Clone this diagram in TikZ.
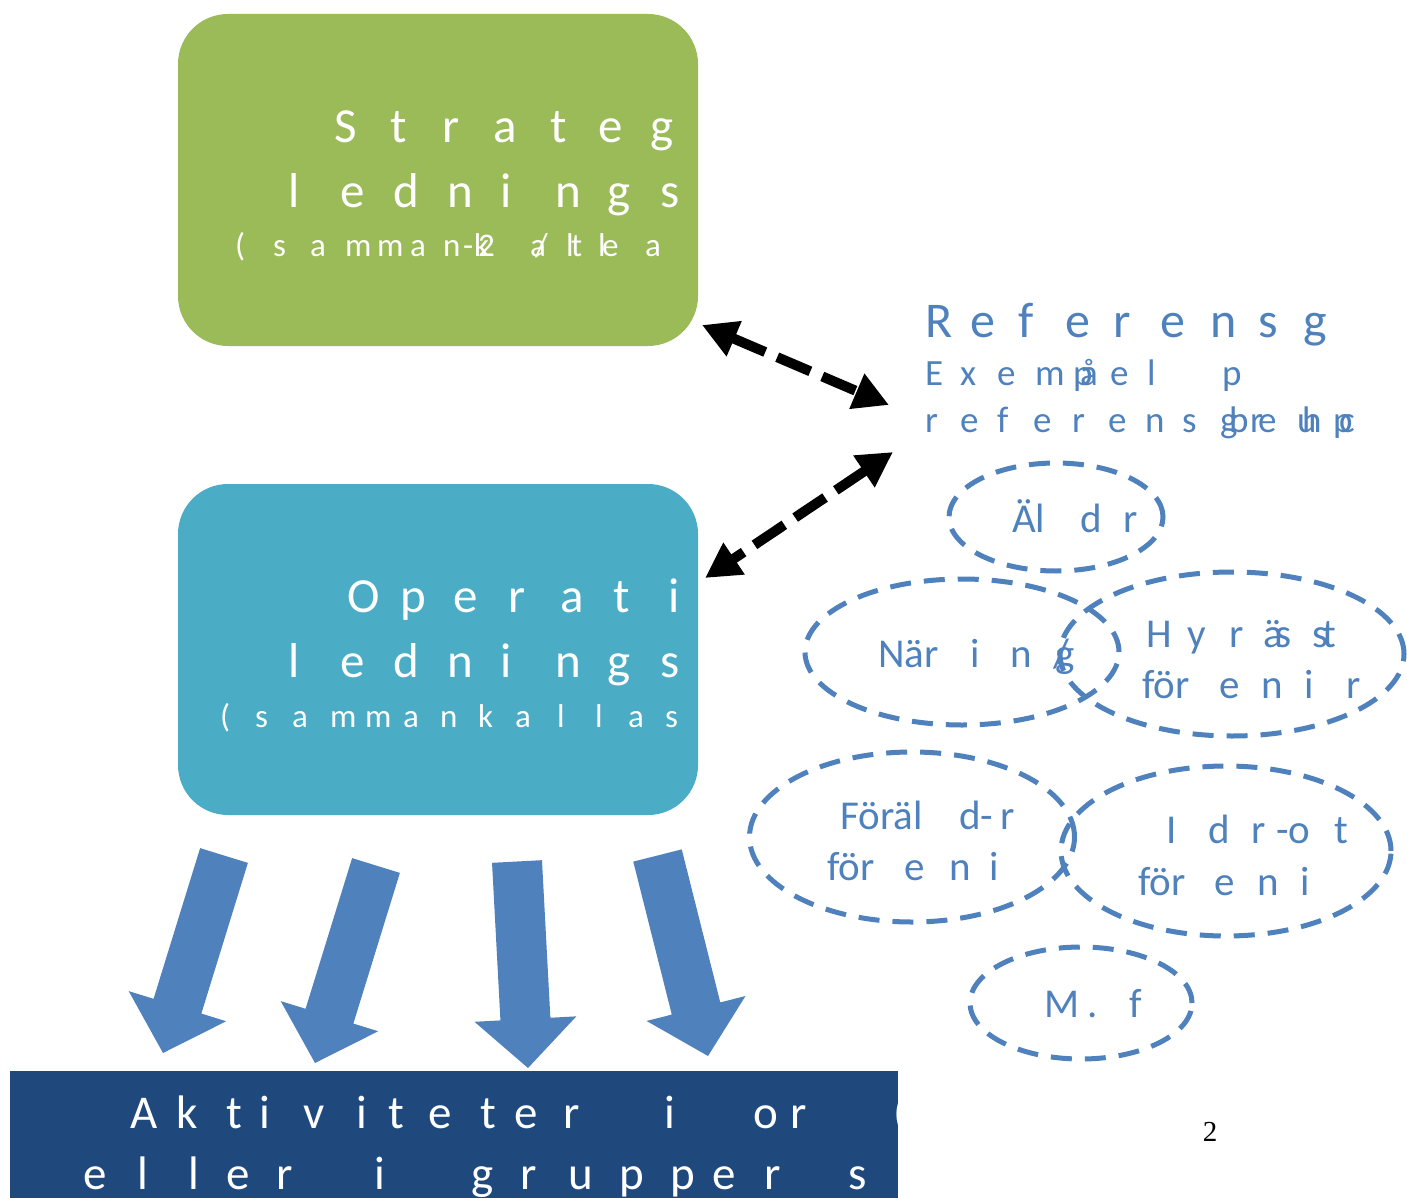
\documentclass[tikz,border=0pt]{standalone}
\usepackage{fontspec}
\setmainfont{Carlito}
\newfontfamily\pgserif{Liberation Serif}
\usetikzlibrary{arrows.meta,calc,shapes.geometric}
\definecolor{sgreen}{HTML}{9BBB59}
\definecolor{oteal}{HTML}{4BACC6}
\definecolor{rblue}{HTML}{4F81BD}
\definecolor{dblue}{HTML}{1F497D}
\newcommand\lpar{(}
% letters placed one by one: prefix, baseline y, style, list char/x
\newcommand\lett[4]{\foreach \c/\x [count=\i] in {#4} \node[#3,anchor=base west,inner sep=0pt] (#1\i) at (\x,#2) {\c};}
% block arrow: name, start (top middle), tip
\newcommand\barrow[3]{%
  \coordinate (#1s) at #2; \coordinate (#1t) at #3;
  \coordinate (#1b) at ($(#1t)!49pt!(#1s)$);
  \fill[rblue] ($(#1s)!25pt!90:(#1t)$) -- ($(#1b)!25pt!90:(#1t)$) -- ($(#1b)!51pt!90:(#1t)$) -- (#1t)
     -- ($(#1b)!51pt!-90:(#1t)$) -- ($(#1b)!25pt!-90:(#1t)$) -- ($(#1s)!25pt!-90:(#1t)$) -- cycle;}
\begin{document}
\begin{tikzpicture}[x=1pt,y=-1pt,
  wt/.style={text=white,font=\fontsize{49}{49}\selectfont},
  wts/.style={text=white,font=\fontsize{33}{33}\selectfont},
  bt/.style={text=rblue,font=\fontsize{50}{50}\selectfont},
  bts/.style={text=rblue,font=\fontsize{37}{37}\selectfont},
  bte/.style={text=rblue,font=\fontsize{41}{41}\selectfont},
  bot/.style={text=white,font=\fontsize{47}{47}\selectfont},
  ell/.style={ellipse,draw=rblue,line width=5pt,dash pattern=on 21pt off 13pt,inner sep=0pt},
  darr/.style={line width=10pt,dash pattern=on 36pt off 13pt,{Triangle[length=35pt,width=36pt]}-{Triangle[length=35pt,width=36pt]}}]
\useasboundingbox (0,0) rectangle (1407,1198);
\fill[white] (0,0) rectangle (1407,1198);
% boxes
\node[fill=sgreen,rounded corners=50pt,minimum width=520pt,minimum height=332pt,inner sep=0pt] (strat) at (438,180) {};
\node[fill=oteal,rounded corners=50pt,minimum width=520pt,minimum height=331pt,inner sep=0pt] (oper) at (438,649.5) {};
\node[fill=dblue,minimum width=888pt,minimum height=127pt,inner sep=0pt] (akt) at (454,1134.5) {};
% green box text
\lett{sa}{143}{wt}{S/334,t/390,r/442,a/493,t/550,e/598,g/650}
\lett{sb}{208}{wt}{l/288,e/340,d/393,n/447,i/500,n/555,g/607,s/660}
\lett{sc}{257}{wts}{{\lpar}/235,s/273,a/310,m/345,m/377,a/410,n/443,-/463,k/474,2/478,a/530,{\slash}/535,l/566,t/571,l/598,e/602,a/645}
% teal box text
\lett{oa}{612}{wt}{O/347,p/400,e/453,r/508,a/560,t/613,i/668}
\lett{ob}{677}{wt}{l/288,e/340,d/393,n/447,i/500,n/555,g/607,s/660}
\lett{oc}{727}{wts}{{\lpar}/220,s/255,a/292,m/330,m/365,a/403,n/440,k/478,a/515,l/557,l/595,a/628,s/665}
% referens text
\lett{ra}{337}{bt}{R/925,e/970,f/1018,e/1065,r/1113,e/1160,n/1210,s/1258,g/1303}
\lett{rb}{385}{bts}{E/925,x/960,e/997,m/1035,p/1073,å/1080,e/1110,l/1147,p/1222}
\lett{rc}{432}{bts}{r/925,e/960,f/997,e/1033,r/1072,e/1108,n/1145,s/1182,g/1220,b/1229,r/1250,e/1258,u/1297,h/1302,p/1333,c/1339}
% dashed double arrows
\coordinate (s1) at (702,325); \coordinate (r1) at (889,405);
\coordinate (r2) at (893,452); \coordinate (o2) at (705,578);
\draw[darr] (s1) -- (r1);
\draw[darr] (r2) -- (o2);
% ellipses
\node[ell,minimum width=214pt,minimum height=108pt] (aldr) at (1056,517) {};
\node[ell,minimum width=314pt,minimum height=146pt] (naring) at (962,652) {};
\node[ell,minimum width=344pt,minimum height=164pt] (hyres) at (1232,654) {};
\node[ell,minimum width=325pt,minimum height=170pt] (foral) at (912,837) {};
\node[ell,minimum width=330pt,minimum height=170pt] (idrott) at (1226,851) {};
\node[ell,minimum width=222pt,minimum height=112pt] (mf) at (1081,1003) {};
\lett{ea}{532}{bte}{Äl/1012,d/1080,r/1123}
\lett{eb}{667}{bte}{När/878,i/970,n/1010,g/1055,{\slash}/1053}
\lett{ec}{647}{bte}{H/1146,y/1187,r/1229,ä/1263,s/1275,s/1312,t/1322}
\lett{ed}{698}{bte}{för/1142,e/1219,n/1261,i/1304,r/1346}
\lett{ee}{829}{bte}{Föräl/840,d-/959,r/1000}
\lett{ef}{880}{bte}{för/827,e/904,n/949,i/989}
\lett{eg}{843}{bte}{I/1166,d/1208,r/1251,-o/1276,t/1334}
\lett{eh}{895}{bte}{för/1138,e/1214,n/1257,i/1300}
\lett{ei}{1017}{bte}{M/1044,./1087,f/1129}
% block arrows
\barrow{ba}{(224,855.5)}{(163,1053)}
\barrow{bb}{(376,865.5)}{(315,1063)}
\barrow{bc}{(517,861.5)}{(528,1068)}
\barrow{bd}{(657.5,855.5)}{(708,1056)}
% bottom text
\begin{scope}
\clip (10,1071) rectangle (898,1198);
\lett{ka}{1128}{bot}{A/130,k/176,t/226,i/259,v/303,i/356,t/388,e/428,t/480,e/514,r/563,i/664,o/753,r/790,{\lpar}/893}
\lett{kb}{1189}{bot}{e/83,l/137,l/188,e/226,r/276,i/374,g/471,r/520,u/568,p/619,p/670,e/712,r/764,s/848}
\end{scope}
% page number
\node[font=\pgserif\fontsize{29}{29}\selectfont,inner sep=0pt] (pg) at (1210,1132) {2};
\end{tikzpicture}
\end{document}
